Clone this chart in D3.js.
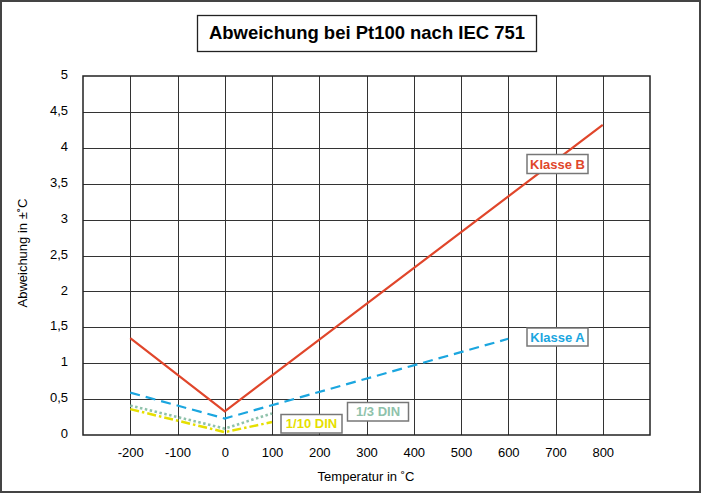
<!DOCTYPE html>
<html>
<head>
<meta charset="utf-8">
<script src="https://cdn.jsdelivr.net/npm/d3@7"></script>
<style>
  html, body { margin: 0; padding: 0; background: #fff; }
  svg { display: block; font-family: "Liberation Sans", Arial, Helvetica, sans-serif; }
</style>
</head>
<body>
<svg id="chart" width="701" height="494"></svg>
<script>
// ---- data ----
const title = "Abweichung bei Pt100 nach IEC 751";
const xLabel = "Temperatur in ˚C";
const yLabel = "Abweichung in ±˚C";
const xTicks = [-200, -100, 0, 100, 200, 300, 400, 500, 600, 700, 800];
const yTicks = [0, 0.5, 1, 1.5, 2, 2.5, 3, 3.5, 4, 4.5, 5];
const yTickLabels = ["0", "0,5", "1", "1,5", "2", "2,5", "3", "3,5", "4", "4,5", "5"];

const tempsB = [-200, 0, 800];
const klasseB = [1.35, 0.33, 4.32];
const tempsA = [-200, 0, 600];
const klasseA = [0.59, 0.23, 1.34];
const tempsDin = [-200, 0, 100];
const din13 = [0.41, 0.09, 0.30];
const din110 = [0.36, 0.04, 0.18];

const seriesNames = ["Klasse B", "Klasse A", "1/3 DIN", "1/10 DIN"];

// ---- layout ----
const svg = d3.select("#chart");
const x = d3.scaleLinear().domain([-300, 900]).range([83, 650]);
const y = d3.scaleLinear().domain([0, 5]).range([435, 76]);

// outer frame
svg.append("rect").attr("x", 1).attr("y", 1).attr("width", 699).attr("height", 491)
  .attr("fill", "#fff").attr("stroke", "#444").attr("stroke-width", 2);

// title box
svg.append("rect").attr("x", 197.5).attr("y", 15.5).attr("width", 339).attr("height", 36)
  .attr("fill", "#fff").attr("stroke", "#222").attr("stroke-width", 1.3);
svg.append("text").attr("x", 367).attr("y", 39).attr("text-anchor", "middle")
  .attr("font-size", 19).attr("font-weight", "bold").attr("fill", "#000")
  .attr("textLength", 316).attr("lengthAdjust", "spacingAndGlyphs")
  .text(title);

// grid
const g = svg.append("g");
g.selectAll("line.v").data(xTicks).enter().append("line")
  .attr("x1", d => Math.round(x(d)) + 0.5).attr("x2", d => Math.round(x(d)) + 0.5)
  .attr("y1", y(5)).attr("y2", y(0))
  .attr("stroke", "#333").attr("stroke-width", 1);
g.selectAll("line.h").data(yTicks.filter(d => d > 0 && d < 5)).enter().append("line")
  .attr("y1", d => Math.round(y(d)) + 0.5).attr("y2", d => Math.round(y(d)) + 0.5)
  .attr("x1", x(-300)).attr("x2", x(900))
  .attr("stroke", "#333").attr("stroke-width", 1);
g.append("rect").attr("x", x(-300)).attr("y", y(5))
  .attr("width", x(900) - x(-300)).attr("height", y(0) - y(5))
  .attr("fill", "none").attr("stroke", "#222").attr("stroke-width", 1.5);

// axes (labels only)
const xAxis = d3.axisBottom(x).tickValues(xTicks).tickSize(0).tickPadding(13)
  .tickFormat(d => String(d));
const gx = svg.append("g").attr("transform", `translate(0,${y(0)})`).call(xAxis);
gx.select(".domain").remove();
gx.selectAll("text").attr("font-size", 13).attr("fill", "#000")
  .attr("font-family", "Liberation Sans, Arial, sans-serif");

const yAxis = d3.axisLeft(y).tickValues(yTicks).tickSize(0).tickPadding(15)
  .tickFormat((d, i) => yTickLabels[i]);
const gy = svg.append("g").attr("transform", `translate(${x(-300)},-1.5)`).call(yAxis);
gy.select(".domain").remove();
gy.selectAll("text").attr("font-size", 13).attr("fill", "#000")
  .attr("font-family", "Liberation Sans, Arial, sans-serif");

svg.append("text").attr("x", 366).attr("y", 481).attr("text-anchor", "middle")
  .attr("font-size", 13).attr("fill", "#000").text(xLabel);
svg.append("text").attr("transform", "translate(27,253) rotate(-90)")
  .attr("text-anchor", "middle").attr("font-size", 13).attr("fill", "#000").text(yLabel);

// lines
const line = d3.line().x(d => x(d[0])).y(d => y(d[1]));
const zip = (a, b) => a.map((v, i) => [v, b[i]]);

const series = [
  { name: seriesNames[3], pts: zip(tempsDin, din110), color: "#e6df00", width: 2.5, dash: "9,3,2.5,3" },
  { name: seriesNames[2], pts: zip(tempsDin, din13), color: "#8fc2ab", width: 2.6, dash: "2.5,2.5" },
  { name: seriesNames[1], pts: zip(tempsA, klasseA), color: "#1ba6df", width: 2.2, dash: "10,6" },
  { name: seriesNames[0], pts: zip(tempsB, klasseB), color: "#e0462b", width: 2.2, dash: null }
];
svg.selectAll("path.series").data(series).enter().append("path")
  .attr("class", "series")
  .attr("d", d => line(d.pts))
  .attr("fill", "none")
  .attr("stroke", d => d.color)
  .attr("stroke-width", d => d.width)
  .attr("stroke-dasharray", d => d.dash);

// labels
const labels = [
  { text: seriesNames[0], color: "#e0462b", x: 527, y: 154.5, w: 61, h: 19 },
  { text: seriesNames[1], color: "#1ba6df", x: 527, y: 328, w: 61, h: 18 },
  { text: seriesNames[2], color: "#8fc2ab", x: 347.5, y: 402.5, w: 61, h: 18.5 },
  { text: seriesNames[3], color: "#e6df00", x: 281, y: 414.5, w: 61, h: 18.5 }
];
const lg = svg.selectAll("g.lbl").data(labels).enter().append("g").attr("class", "lbl");
lg.append("rect").attr("x", d => d.x).attr("y", d => d.y).attr("width", d => d.w).attr("height", d => d.h)
  .attr("fill", "#fff").attr("stroke", "#777").attr("stroke-width", 1.5);
lg.append("text").attr("x", d => d.x + d.w / 2).attr("y", d => d.y + d.h / 2 + 4.5)
  .attr("text-anchor", "middle").attr("font-size", 13).attr("font-weight", "bold")
  .attr("fill", d => d.color).text(d => d.text);
</script>
</body>
</html>
